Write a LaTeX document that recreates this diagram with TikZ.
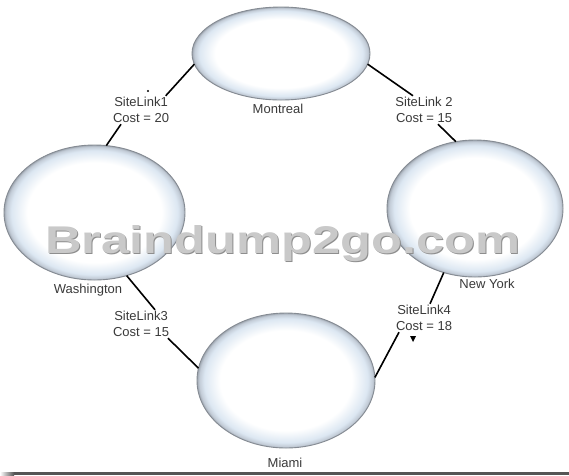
\documentclass[tikz,border=0pt]{standalone}
\usepackage{fontspec}
\setmainfont{Liberation Sans}
\usetikzlibrary{shapes.geometric}
\definecolor{glowblue}{HTML}{DCE7F2}
\definecolor{glowedge}{HTML}{C2CBD6}
\definecolor{rimgray}{HTML}{9EA6B0}
\definecolor{rimdark}{HTML}{858B93}
\definecolor{txtgray}{HTML}{3A3A3A}
\definecolor{wmgray}{HTML}{C9C9C9}
\definecolor{wmshadow}{HTML}{8E8E8E}
\definecolor{bargray}{HTML}{555555}
\pgfdeclareradialshading{siteglow}{\pgfpoint{0bp}{0bp}}{color(0bp)=(white); color(18.5bp)=(white); color(23bp)=(glowblue); color(24.4bp)=(glowedge); color(25bp)=(rimgray); color(50bp)=(rimgray)}
\begin{document}
\begin{tikzpicture}[x=1pt,y=-1pt,
  site/.style={ellipse, shade, shading=siteglow, draw=rimdark, line width=0.9pt, inner sep=0pt, outer sep=0pt},
  city/.style={font=\fontsize{13}{15.5}\selectfont, text=txtgray, inner sep=1pt},
  linklabel/.style={font=\fontsize{13}{15.5}\selectfont, text=txtgray, align=center, inner sep=1.5pt},
  link/.style={line width=1.6pt, black},
  wmark/.style={anchor=base west, inner sep=0pt}]
\useasboundingbox (0,0) rectangle (569,475);
\fill[white] (0,0) rectangle (569,475);
% sites
\node[site, minimum width=178pt, minimum height=93pt] (mont) at (281,53.5) {};
\node[site, minimum width=181pt, minimum height=135pt] (wash) at (94.5,212.5) {};
\node[site, minimum width=176pt, minimum height=137pt] (ny) at (475,208.5) {};
\node[site, minimum width=178pt, minimum height=135pt] (miami) at (286,380.5) {};
% city names
\node[city] (tmont) at (278,109) {Montreal};
\node[city] (twash) at (88,290) {Washington};
\node[city] (tny) at (487,284) {New York};
\node[city] (tmiami) at (285,463) {Miami};
% link labels
\node[linklabel] (lbl1) at (141,110) {SiteLink1\\Cost = 20};
\node[linklabel] (lbl2) at (424,110) {SiteLink 2\\Cost = 15};
\node[linklabel] (lbl3) at (141,324) {SiteLink3\\Cost = 15};
\node[linklabel] (lbl4) at (424,318) {SiteLink4\\Cost = 18};
% connectors
\draw[link] (mont.187) -- ([xshift=-5pt]lbl1.north east);
\draw[link] ([xshift=-20pt]lbl1.south) -- (wash.80);
\draw[link] (mont.353) -- ([xshift=-11pt]lbl2.north);
\draw[link] ([xshift=14pt]lbl2.south) -- (ny.106);
\draw[link] (wash.297) -- ([xshift=14pt]lbl3.north);
\draw[link] ([xshift=27pt]lbl3.south) -- (miami.172);
\draw[link] (ny.244) -- ([xshift=6pt]lbl4.north);
\draw[link] ([xshift=-25pt]lbl4.south) -- (miami.2);
% small marks
\fill (148,91) circle (1.2pt);
\fill (410,336) -- (416,336) -- (413,342) -- cycle;
% watermark
\node[wmark, text=wmshadow] (wmb) at (46.2,254.2) {\resizebox{475pt}{28pt}{\bfseries Braindump2go.com}};
\node[wmark, text=wmgray] (wm) at (45,253) {\resizebox{475pt}{28pt}{\bfseries Braindump2go.com}};
% bottom bar
\shade[left color=white, right color=bargray] (0,472) rectangle (14,475);
\fill[bargray] (14,472) rectangle (569,475);
\end{tikzpicture}
\end{document}
